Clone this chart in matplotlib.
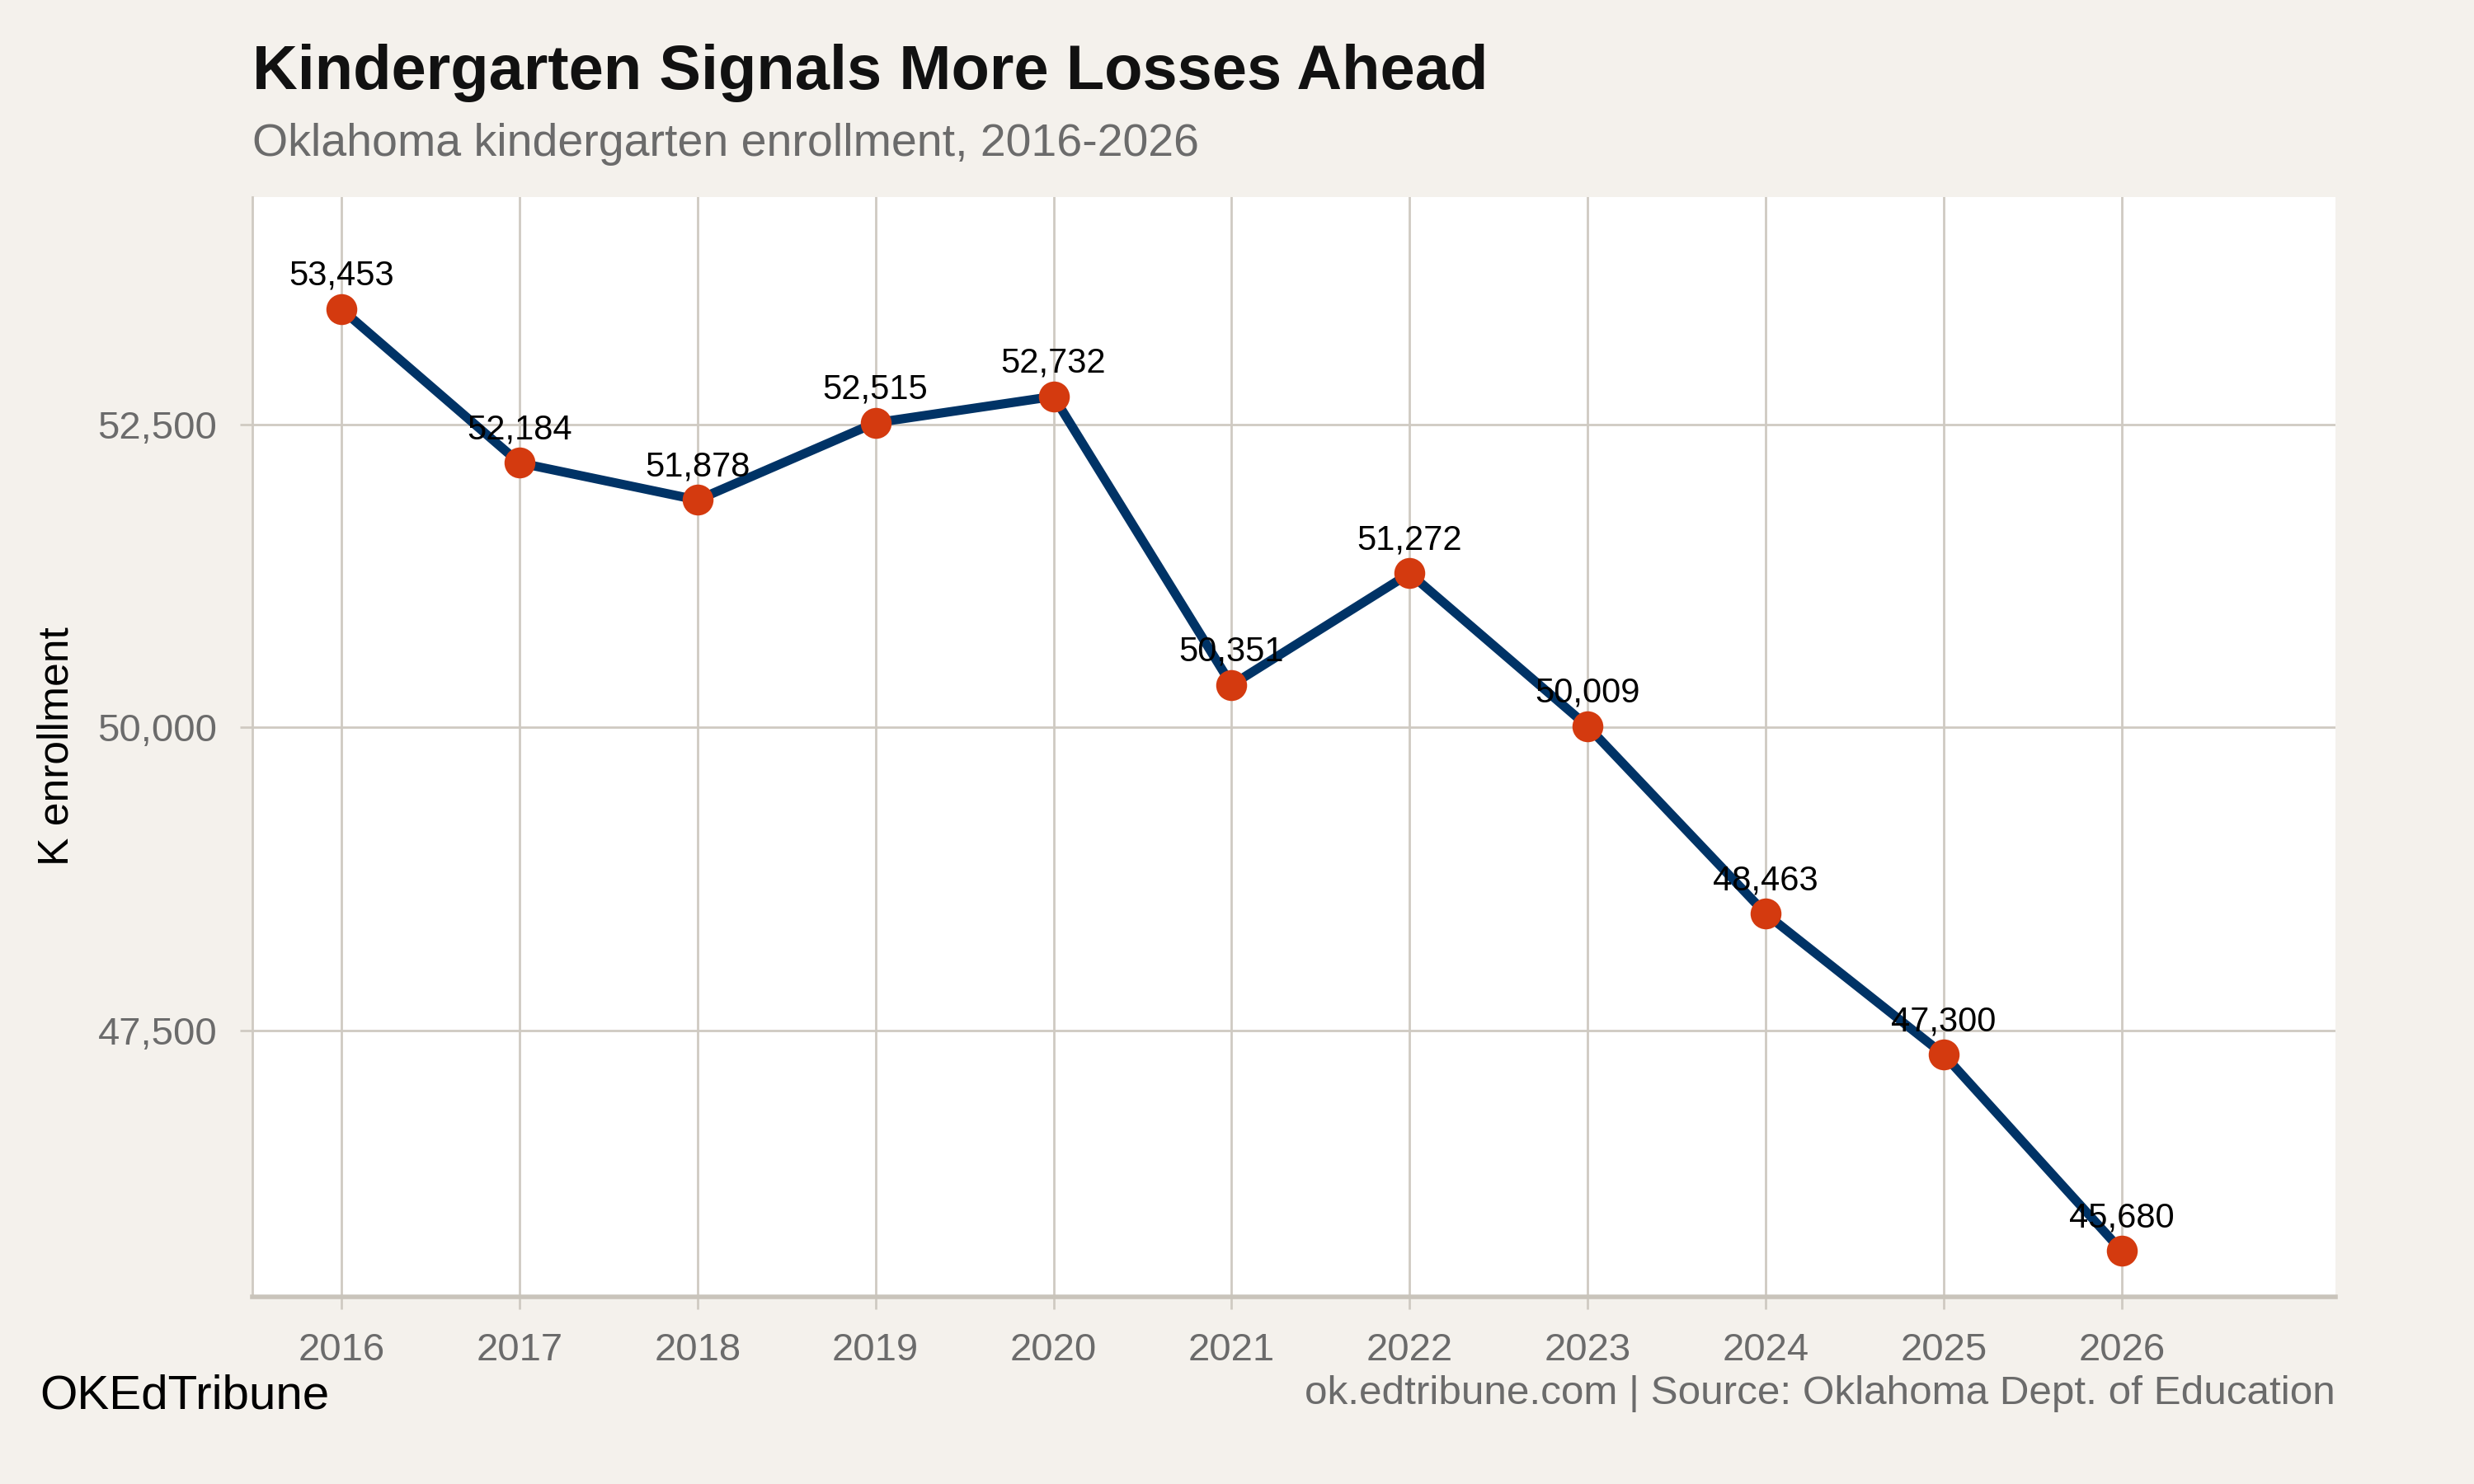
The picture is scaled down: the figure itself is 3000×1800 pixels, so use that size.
import matplotlib.pyplot as plt
from matplotlib.ticker import FuncFormatter

years = [2016, 2017, 2018, 2019, 2020, 2021, 2022, 2023, 2024, 2025, 2026]
enrollment = [53453, 52184, 51878, 52515, 52732, 50351, 51272, 50009, 48463, 47300, 45680]
y_ticks = [47500, 50000, 52500]

bg = "#F4F1EC"
grid_c = "#CFCAC2"
navy = "#003366"
orange = "#D43A0F"
gray_txt = "#6B6B6B"

plt.rcParams["font.family"] = ["Liberation Sans", "DejaVu Sans"]

fig = plt.figure(figsize=(15, 9), dpi=200, facecolor=bg)
ax = fig.add_axes([0.102, 0.126, 0.842, 0.741])
ax.set_facecolor("white")

ax.plot(years, enrollment, color=navy, lw=4, zorder=3)
ax.plot(years, enrollment, "o", color=orange, ms=13.5, mec="none", zorder=4)
for x, y in zip(years, enrollment):
    ax.annotate(f"{y:,}", (x, y), xytext=(0, 10.5), textcoords="offset points",
                ha="center", va="baseline", fontsize=15, color="black", zorder=5)

ax.set_xlim(2015.5, 2027.2)
ax.set_ylim(45300, 54375)
ax.set_xticks(years)
ax.set_yticks(y_ticks)
ax.yaxis.set_major_formatter(FuncFormatter(lambda v, p: f"{int(v):,}"))
ax.grid(True, color=grid_c, lw=1.0, zorder=0)
ax.tick_params(axis="both", colors=grid_c, labelcolor=gray_txt, labelsize=17, length=5.4, width=1.0, pad=10)

for s in ["top", "right"]:
    ax.spines[s].set_visible(False)
ax.spines["left"].set_color(grid_c)
ax.spines["left"].set_linewidth(1.0)
ax.spines["bottom"].set_color("#C9C4BB")
ax.spines["bottom"].set_linewidth(2.0)

fig.text(0.023, 0.497, "K enrollment", fontsize=18.6, color="black", rotation=90,
         ha="center", va="center")

fig.text(0.102, 0.951, "Kindergarten Signals More Losses Ahead", fontsize=27.3, fontweight="bold",
         color="#111111", ha="left", va="center")
fig.text(0.102, 0.903, "Oklahoma kindergarten enrollment, 2016-2026", fontsize=20,
         color=gray_txt, ha="left", va="center")
fig.text(0.016, 0.059, "OKEdTribune", fontsize=21, color="black", ha="left", va="center")
fig.text(0.944, 0.061, "ok.edtribune.com | Source: Oklahoma Dept. of Education", fontsize=17.8,
         color=gray_txt, ha="right", va="center")

fig.savefig("out.png", dpi=200, facecolor=bg)
